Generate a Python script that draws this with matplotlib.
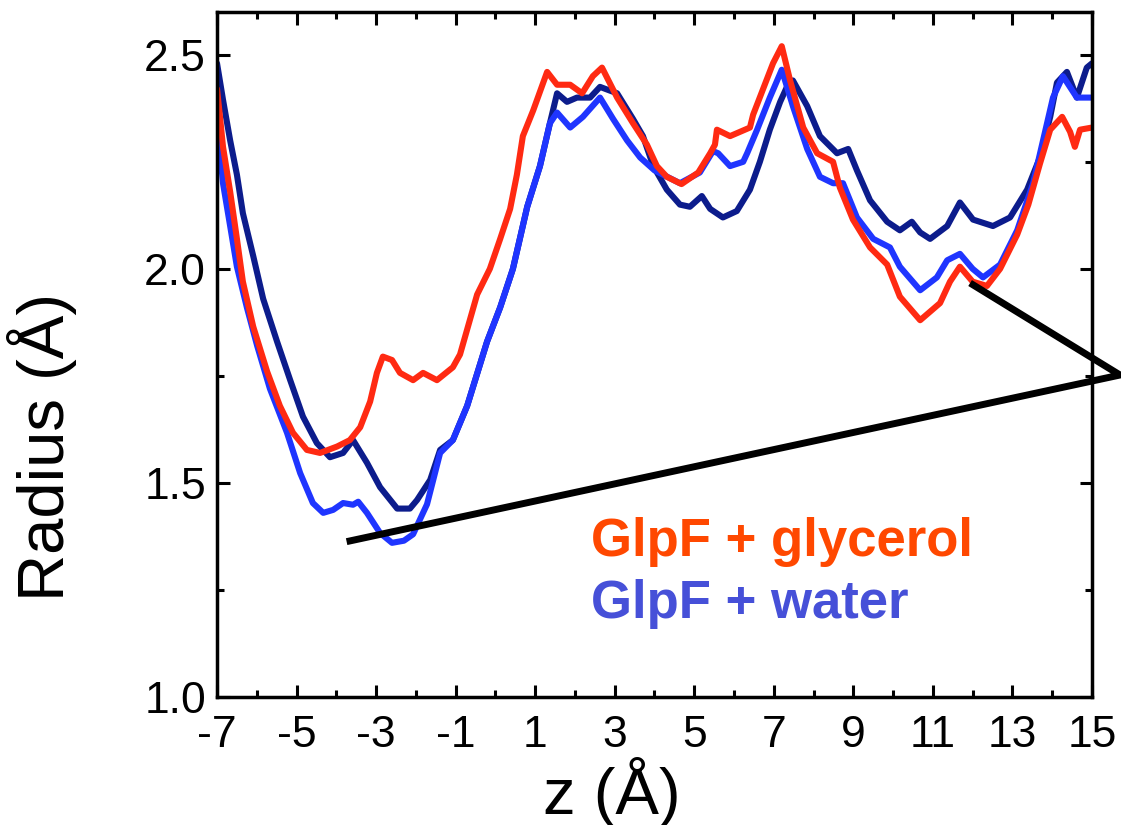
import matplotlib
matplotlib.use("Agg")
import matplotlib.pyplot as plt
from matplotlib.ticker import MultipleLocator

plt.rcParams['font.family'] = ['Liberation Sans', 'DejaVu Sans']
plt.rcParams['axes.unicode_minus'] = False

# pore radius profiles: z (A), radius (A)
z_glycerol = [-7.0, -6.92, -6.85, -6.67, -6.5, -6.35, -6.09, -5.74, -5.42, -5.09,
              -4.74, -4.41, -3.98, -3.66, -3.40, -3.15, -2.98, -2.83, -2.6, -2.4,
              -2.07, -1.82, -1.47, -1.07, -0.89, -0.46, -0.14, 0.12, 0.37, 0.54,
              0.69, 0.95, 1.30, 1.55, 1.88, 2.18, 2.45, 2.68, 3.06, 3.46,
              3.81, 4.06, 4.31, 4.68, 5.1, 5.4, 5.52, 5.57, 5.9, 6.4,
              6.48, 6.73, 6.98, 7.2, 7.41, 7.74, 8.09, 8.49, 8.66, 8.99,
              9.42, 9.85, 10.17, 10.68, 11.18, 11.43, 11.68, 12.0, 12.36, 12.69,
              13.12, 13.4, 13.69, 13.95, 14.25, 14.45, 14.57, 14.70, 15.0]
r_glycerol = [2.42, 2.35, 2.285, 2.18, 2.07, 1.97, 1.865, 1.76, 1.68, 1.617,
              1.577, 1.57, 1.585, 1.60, 1.63, 1.69, 1.757, 1.795, 1.787, 1.757,
              1.74, 1.757, 1.74, 1.77, 1.80, 1.94, 2.00, 2.07, 2.14, 2.22,
              2.31, 2.37, 2.46, 2.43, 2.43, 2.41, 2.45, 2.47, 2.40, 2.34,
              2.29, 2.24, 2.215, 2.198, 2.225, 2.27, 2.29, 2.325, 2.31, 2.33,
              2.36, 2.42, 2.48, 2.52, 2.44, 2.33, 2.27, 2.25, 2.19, 2.115,
              2.05, 2.01, 1.935, 1.88, 1.92, 1.97, 2.005, 1.97, 1.96, 2.00,
              2.08, 2.15, 2.245, 2.325, 2.355, 2.32, 2.285, 2.325, 2.33]

z_water = [-7.0, -6.92, -6.85, -6.67, -6.5, -6.25, -5.99, -5.67, -5.24, -4.91,
           -4.59, -4.33, -4.08, -3.83, -3.58, -3.45, -3.23, -2.90, -2.6, -2.3,
           -2.07, -1.72, -1.39, -1.07, -0.71, -0.21, 0.12, 0.44, 0.80, 1.12,
           1.37, 1.55, 1.88, 2.2, 2.63, 2.96, 3.31, 3.64, 4.0, 4.64,
           5.14, 5.47, 5.6, 5.9, 6.23, 6.33, 6.58, 6.9, 7.2, 7.48,
           7.84, 8.16, 8.49, 8.74, 9.09, 9.50, 9.92, 10.17, 10.68, 11.1,
           11.36, 11.68, 12.0, 12.26, 12.69, 13.12, 13.52, 13.77, 14.02, 14.27,
           14.62, 15.0]
r_water = [2.34, 2.27, 2.20, 2.10, 2.005, 1.91, 1.82, 1.72, 1.617, 1.523,
           1.453, 1.43, 1.437, 1.453, 1.449, 1.456, 1.43, 1.383, 1.36, 1.365,
           1.38, 1.45, 1.57, 1.60, 1.68, 1.83, 1.91, 2.00, 2.145, 2.24,
           2.34, 2.365, 2.33, 2.355, 2.40, 2.35, 2.30, 2.26, 2.23, 2.20,
           2.225, 2.275, 2.27, 2.24, 2.25, 2.27, 2.325, 2.40, 2.465, 2.38,
           2.28, 2.215, 2.20, 2.20, 2.12, 2.07, 2.05, 2.005, 1.95, 1.98,
           2.02, 2.035, 2.00, 1.98, 2.01, 2.09, 2.20, 2.30, 2.40, 2.45,
           2.40, 2.40]

z_water2 = [-7.0, -6.85, -6.67, -6.5, -6.35, -6.09, -5.84, -5.49, -5.16, -4.84,
            -4.49, -4.16, -3.83, -3.58, -3.23, -2.9, -2.47, -2.15, -1.97, -1.64,
            -1.39, -1.07, -0.71, -0.21, 0.12, 0.44, 0.80, 1.12, 1.37, 1.55,
            1.8, 2.05, 2.38, 2.63, 3.06, 3.46, 3.71, 3.97, 4.31, 4.64,
            4.89, 5.19, 5.40, 5.72, 6.07, 6.40, 6.65, 6.9, 7.16, 7.33,
            7.48, 7.84, 8.16, 8.59, 8.87, 9.09, 9.42, 9.85, 10.17, 10.47,
            10.68, 10.93, 11.36, 11.68, 12.01, 12.51, 12.94, 13.37, 13.69, 13.95,
            14.12, 14.37, 14.62, 14.87, 15.0]
r_water2 = [2.48, 2.395, 2.30, 2.22, 2.13, 2.03, 1.93, 1.83, 1.74, 1.655,
            1.593, 1.56, 1.57, 1.60, 1.547, 1.49, 1.44, 1.44, 1.46, 1.507,
            1.577, 1.60, 1.68, 1.83, 1.91, 2.00, 2.145, 2.24, 2.34, 2.41,
            2.39, 2.40, 2.40, 2.425, 2.41, 2.35, 2.31, 2.24, 2.185, 2.15,
            2.145, 2.17, 2.14, 2.12, 2.135, 2.185, 2.25, 2.325, 2.39, 2.425,
            2.44, 2.38, 2.31, 2.27, 2.28, 2.23, 2.16, 2.11, 2.09, 2.11,
            2.085, 2.07, 2.10, 2.155, 2.115, 2.10, 2.12, 2.185, 2.26, 2.355,
            2.435, 2.46, 2.40, 2.47, 2.48]

# black pointer line (z, radius)
pointer_z = [-3.656, 15.705, 12.01]
pointer_r = [1.3645, 1.752, 1.9626]

fig = plt.figure(figsize=(11.21, 8.25), dpi=100)
ax = fig.add_axes([0.1936, 0.1552, 0.7805, 0.8303])

ax.plot(z_water2, r_water2, '-', color='#0c1c8c', lw=4.4, solid_capstyle='round')
ax.plot(z_water, r_water, '-', color='#1f35ff', lw=4.4, solid_capstyle='round')
ax.plot(z_glycerol, r_glycerol, '-', color='#ff2a12', lw=4.4, solid_capstyle='round')

ax.plot(pointer_z, pointer_r, '-', color='black', lw=5, clip_on=False,
        solid_joinstyle='miter')

ax.text(0.427, 0.206, 'GlpF + glycerol', transform=ax.transAxes, color='#ff4800',
        fontsize=38, fontweight='bold', va='baseline')
ax.text(0.427, 0.115, 'GlpF + water', transform=ax.transAxes, color='#4650d8',
        fontsize=38, fontweight='bold', va='baseline')

ax.set_xlim(-7, 15)
ax.set_ylim(1.0, 2.6)
ax.set_xticks(range(-7, 16, 2))
ax.xaxis.set_minor_locator(MultipleLocator(1))
ax.set_yticks([1.0, 1.5, 2.0, 2.5])
ax.set_yticklabels(['1.0', '1.5', '2.0', '2.5'])
ax.yaxis.set_minor_locator(MultipleLocator(0.25))
ax.tick_params(which='both', direction='in', top=True, right=True, width=2.2)
ax.tick_params(which='major', length=9, labelsize=32)
ax.tick_params(axis='x', which='major', pad=13)
ax.tick_params(axis='y', which='major', pad=8)
ax.tick_params(which='minor', length=5)
for s in ax.spines.values():
    s.set_linewidth(2.5)

ax.set_xlabel('z (Å)', fontsize=47)
ax.xaxis.set_label_coords(0.451, -0.088)
ax.set_ylabel('Radius (Å)', fontsize=47)
ax.yaxis.set_label_coords(-0.16, 0.365)

fig.savefig('out.png', dpi=100)
